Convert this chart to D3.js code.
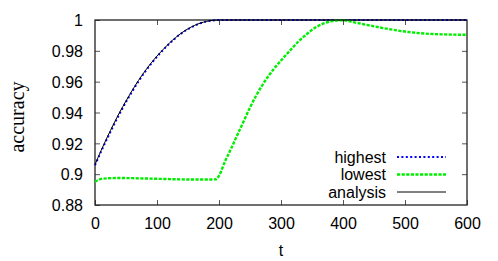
<!DOCTYPE html>
<html>
<head>
<meta charset="utf-8">
<script src="https://cdn.jsdelivr.net/npm/d3@7"></script>
<style>
  html, body { margin: 0; padding: 0; background: #fff; }
  svg { display: block; }
  text { font-family: "Liberation Sans", Arial, sans-serif; fill: #000; }
</style>
</head>
<body>
<svg id="chart" width="498" height="261"></svg>
<script>
// ---- data ----
const analysisT = [0,10,20,30,40,50,60,70,80,90,100,110,120,130,140,150,160,170,180,190,200,250,300,350,400,450,500,550,600];
const analysisV = [0.9062,0.9155,0.9242,0.9325,0.9403,0.9475,0.9543,0.9607,0.9665,0.9718,0.9766,0.9810,0.9850,0.9886,0.9917,0.9943,0.9964,0.9980,0.9991,0.9998,1.0,1.0,1.0,1.0,1.0,1.0,1.0,1.0,1.0];

const highestT = [0,10,20,30,40,50,60,70,80,90,100,110,120,130,140,150,160,170,180,190,200,250,300,350,400,450,500,550,600];
const highestV = [0.9058,0.9148,0.9234,0.9316,0.9395,0.9468,0.9537,0.9601,0.9660,0.9713,0.9762,0.9806,0.9847,0.9883,0.9915,0.9941,0.9962,0.9979,0.9990,0.9997,1.0,1.0,1.0,1.0,1.0,1.0,1.0,1.0,1.0];

const lowestT = [0,5,10,20,40,60,80,100,120,140,160,180,196,200,210,220,230,240,250,260,270,280,290,300,310,320,330,340,350,360,370,380,390,400,420,440,460,480,500,520,540,560,580,600];
const lowestV = [0.8950,0.8962,0.8969,0.8973,0.8975,0.8974,0.8972,0.8970,0.8968,0.8966,0.8965,0.8965,0.8967,0.8990,0.9085,0.9170,0.9258,0.9345,0.9432,0.9510,0.9578,0.9638,0.9690,0.9737,0.9782,0.9826,0.9868,0.9903,0.9936,0.9961,0.9979,0.9991,0.9997,0.9998,0.9983,0.9967,0.9951,0.9937,0.9925,0.9916,0.9910,0.9907,0.9905,0.9904];

const xTicks = [0,100,200,300,400,500,600];
const yTicks = [0.88,0.9,0.92,0.94,0.96,0.98,1];
const yTickLabels = ["0.88","0.9","0.92","0.94","0.96","0.98","1"];
const legendNames = ["highest","lowest","analysis"];

// ---- layout ----
const svg = d3.select("#chart");
const L = 95, R = 467, T = 20, B = 205;
const x = d3.scaleLinear().domain([0,600]).range([L,R]);
const y = d3.scaleLinear().domain([0.88,1]).range([B,T]);

const tickLen = 5;
const tickColor = "#555";

const axB = d3.axisBottom(x).tickValues(xTicks).tickSize(-tickLen).tickFormat(d => d).tickPadding(10);
const axT = d3.axisTop(x).tickValues(xTicks.slice(1,-1)).tickSize(-tickLen).tickFormat("");
const axL = d3.axisLeft(y).tickValues(yTicks).tickSize(-tickLen).tickFormat((d,i) => yTickLabels[i]).tickPadding(12);
const axR = d3.axisRight(y).tickValues(yTicks.slice(1,-1)).tickSize(-tickLen).tickFormat("");

function styleAxis(g) {
  g.select(".domain").remove();
  g.selectAll(".tick line").attr("stroke", tickColor).attr("stroke-width", 1);
  g.selectAll(".tick text").attr("font-size", 16).attr("font-family", "Liberation Sans, Arial, sans-serif").attr("fill", "#000");
}
const gB = svg.append("g").attr("transform", `translate(0,${B})`).call(axB).call(styleAxis);
svg.append("g").attr("transform", `translate(0,${T})`).call(axT).call(styleAxis);
const gL = svg.append("g").attr("transform", `translate(${L},0)`).call(axL).call(styleAxis);
svg.append("g").attr("transform", `translate(${R},0)`).call(axR).call(styleAxis);
gB.selectAll(".tick text").attr("y", 24).attr("dy", null);
gL.selectAll(".tick text").attr("dy", "0.36em");

// frame
svg.append("rect").attr("x", L).attr("y", T).attr("width", R - L).attr("height", B - T)
  .attr("fill", "none").attr("stroke", "#222").attr("stroke-width", 1.3);

// lines
const line = d3.line().x(d => x(d[0])).y(d => y(d[1])).curve(d3.curveMonotoneX);
const zip = (a, b) => a.map((t, i) => [t, b[i]]);

const styles = [
  {name: legendNames[0], data: zip(highestT, highestV), color: "#0000ff", width: 2, dash: "2,2.4"},
  {name: legendNames[1], data: zip(lowestT, lowestV), color: "#00ee00", width: 2.4, dash: "3.2,1.4"},
  {name: legendNames[2], data: zip(analysisT, analysisV), color: "#000000", width: 1, dash: null}
];

styles.forEach(s => {
  svg.append("path").datum(s.data).attr("d", line)
    .attr("fill", "none").attr("stroke", s.color).attr("stroke-width", s.width)
    .attr("stroke-dasharray", s.dash);
});

// legend
const legRowY = [157, 174.5, 192];
styles.forEach((s, i) => {
  svg.append("text").attr("x", 386).attr("y", legRowY[i] + 5.5)
    .attr("text-anchor", "end").attr("font-size", 16).text(s.name);
  svg.append("line").attr("x1", 397).attr("x2", 446).attr("y1", legRowY[i]).attr("y2", legRowY[i])
    .attr("stroke", s.color).attr("stroke-width", s.width).attr("stroke-dasharray", s.dash);
});

// axis titles
svg.append("text").attr("x", 281).attr("y", 256).attr("text-anchor", "middle")
  .attr("font-size", 16).text("t");
svg.append("text").attr("transform", "translate(24,117) rotate(-90)")
  .attr("text-anchor", "middle").attr("font-size", 20)
  .style("font-family", "'Liberation Serif', 'Times New Roman', serif")
  .text("accuracy");
</script>
</body>
</html>
